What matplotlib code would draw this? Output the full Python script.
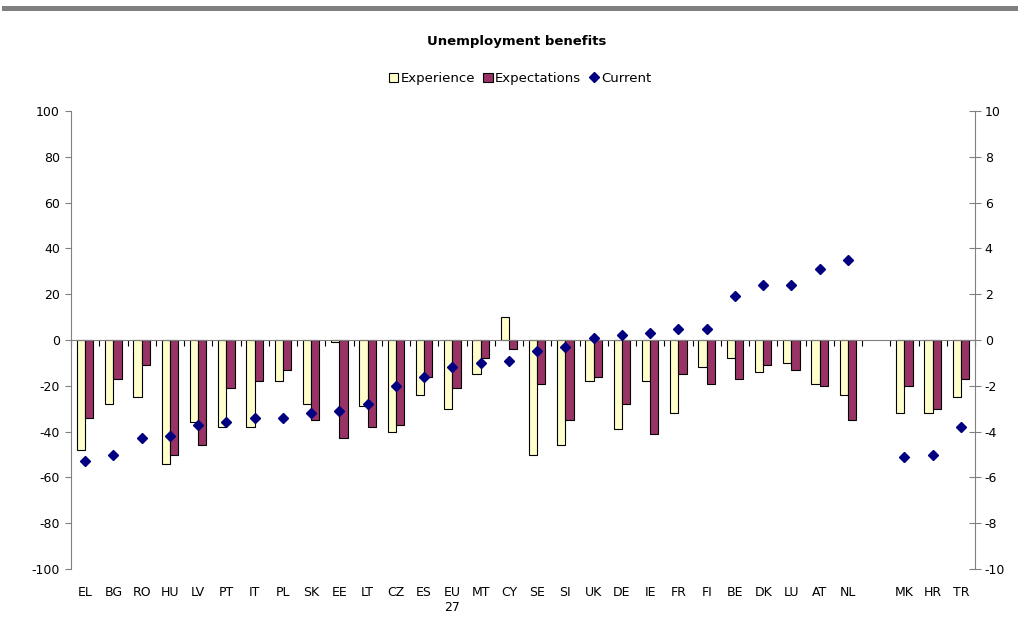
import numpy as np
import matplotlib
matplotlib.use("Agg")
import matplotlib.pyplot as plt
from matplotlib.patches import Patch
from matplotlib.lines import Line2D

countries = ['EL', 'BG', 'RO', 'HU', 'LV', 'PT', 'IT', 'PL', 'SK', 'EE', 'LT', 'CZ', 'ES', 'EU\n27',
             'MT', 'CY', 'SE', 'SI', 'UK', 'DE', 'IE', 'FR', 'FI', 'BE', 'DK', 'LU', 'AT', 'NL',
             '', 'MK', 'HR', 'TR']

experience = [-48, -28, -25, -54, -36, -38, -38, -18, -28, -1, -29, -40, -24, -30,
              -15, 10, -50, -46, -18, -39, -18, -32, -12, -8, -14, -10, -19, -24,
              np.nan, -32, -32, -25]
expectations = [-34, -17, -11, -50, -46, -21, -18, -13, -35, -43, -38, -37, -16, -21,
                -8, -4, -19, -35, -16, -28, -41, -15, -19, -17, -11, -13, -20, -35,
                np.nan, -20, -30, -17]
current = [-5.3, -5.0, -4.3, -4.2, -3.7, -3.6, -3.4, -3.4, -3.2, -3.1, -2.8, -2.0, -1.6, -1.2,
           -1.0, -0.9, -0.5, -0.3, 0.1, 0.2, 0.3, 0.5, 0.5, 1.9, 2.4, 2.4, 3.1, 3.5,
           np.nan, -5.1, -5.0, -3.8]

c_exp = '#FFFFCC'
c_expt = '#993366'
c_cur = '#000080'
grey = '#808080'

plt.rcParams['font.family'] = ['DejaVu Sans']
plt.rcParams['axes.unicode_minus'] = False

fig = plt.figure(figsize=(10.18, 6.34), dpi=100)
ax = fig.add_axes([71 / 1018, 65 / 634, 904 / 1018, 458 / 634])

x = np.arange(len(countries))
w = 0.29
ax.bar(x - w / 2, experience, width=w, color=c_exp, edgecolor='black', linewidth=0.8, zorder=2)
ax.bar(x + w / 2, expectations, width=w, color=c_expt, edgecolor='black', linewidth=0.8, zorder=2)

ax.set_xlim(-0.5, len(countries) - 0.5)
ax.set_ylim(-100, 100)
ax.set_yticks(np.arange(-100, 101, 20))
ax.tick_params(axis='y', direction='out', length=4, color=grey, labelsize=9, pad=4)

for s in ['top', 'right']:
    ax.spines[s].set_visible(False)
ax.spines['left'].set_color(grey)
ax.spines['bottom'].set_position(('data', 0))
ax.spines['bottom'].set_color(grey)
ax.spines['bottom'].set_zorder(3)

# category axis at zero, ticks at boundaries
ax.set_xticks(np.arange(-0.5, len(countries), 1.0))
ax.tick_params(axis='x', direction='out', length=4, color='black', labelbottom=False, width=0.8)

sec = ax.secondary_xaxis(0)
sec.set_xticks(x, countries)
sec.spines['bottom'].set_visible(False)
sec.tick_params(axis='x', length=0, labelsize=9, pad=12)

ax2 = ax.twinx()
ax2.set_ylim(-10, 10)
ax2.set_yticks(np.arange(-10, 11, 2))
ax2.plot(x, current, linestyle='None', marker='D', markersize=5.5, color=c_cur, zorder=4)
for s in ['top', 'left', 'bottom']:
    ax2.spines[s].set_visible(False)
ax2.spines['right'].set_color(grey)
ax2.tick_params(axis='y', direction='inout', length=8, color=grey, labelsize=9, pad=3)

fig.text(0.508, 0.935, 'Unemployment benefits', ha='center', va='center', fontsize=9.5, fontweight='bold')

handles = [Patch(facecolor=c_exp, edgecolor='black', linewidth=0.8, label='Experience'),
           Patch(facecolor=c_expt, edgecolor='black', linewidth=0.8, label='Expectations'),
           Line2D([0], [0], marker='D', markersize=5, color=c_cur, linestyle='None', label='Current')]
fig.legend(handles=handles, loc='center', bbox_to_anchor=(0.511, 0.876), ncol=3, frameon=False,
           fontsize=9.5, handlelength=0.7, handleheight=0.7, handletextpad=0.2, columnspacing=0.6)

fig.add_artist(Line2D([4 / 1018, 1.0], [1 - 7.5 / 634] * 2, color=grey, linewidth=3.6))

plt.savefig('out.png', dpi=100)
